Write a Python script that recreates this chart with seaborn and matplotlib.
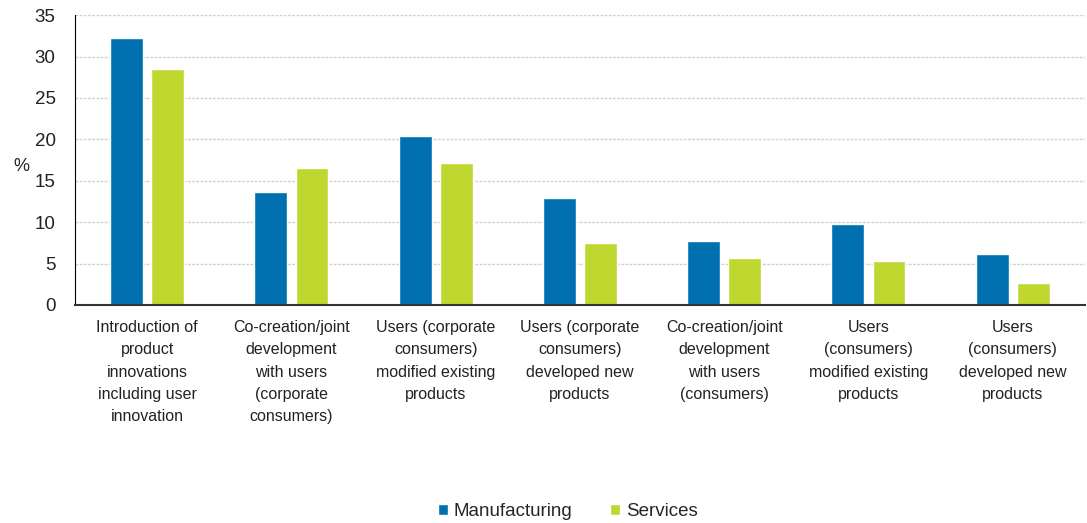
import pandas as pd
import matplotlib.pyplot as plt
import seaborn as sns

# Chart data
categories = [
    "Introduction of\nproduct\ninnovations\nincluding user\ninnovation",
    "Co-creation/joint\ndevelopment\nwith users\n(corporate\nconsumers)",
    "Users (corporate\nconsumers)\nmodified existing\nproducts",
    "Users (corporate\nconsumers)\ndeveloped new\nproducts",
    "Co-creation/joint\ndevelopment\nwith users\n(consumers)",
    "Users\n(consumers)\nmodified existing\nproducts",
    "Users\n(consumers)\ndeveloped new\nproducts",
]
manufacturing = [32.2, 13.6, 20.4, 12.9, 7.7, 9.8, 6.1]
services = [28.5, 16.5, 17.1, 7.5, 5.7, 5.3, 2.6]
series = ["Manufacturing", "Services"]
colors = ["#0070b0", "#c0d730"]

df = pd.DataFrame({
    "category": categories * 2,
    "value": manufacturing + services,
    "sector": [series[0]] * len(categories) + [series[1]] * len(categories),
})

sns.set_style("white")
plt.rcParams["font.family"] = ["Liberation Sans", "DejaVu Sans"]

fig = plt.figure(figsize=(10.87, 5.23), dpi=100)
ax = fig.add_axes([0.069, 0.417, 0.929, 0.554])

sns.barplot(data=df, x="category", y="value", hue="sector", palette=colors,
            width=0.57, gap=0.2, saturation=1, ax=ax, legend=True)

ax.set_ylim(0, 35)
ax.set_yticks(range(0, 36, 5))
ax.set_xlim(-0.5, len(categories) - 0.5)
ax.yaxis.grid(True, color="#d0d0d0", linewidth=1, linestyle=(0, (2, 1)))
ax.set_axisbelow(True)
for s in ["top", "right"]:
    ax.spines[s].set_visible(False)
ax.spines["left"].set_color("black")
ax.spines["bottom"].set_color("#333333")
ax.spines["bottom"].set_linewidth(1.5)

ax.tick_params(axis="y", labelsize=13.5, length=0, pad=14, colors="#222222")
ax.tick_params(axis="x", labelsize=11.5, length=0, pad=11, colors="#222222")
for lab in ax.get_xticklabels():
    lab.set_linespacing(1.6)
ax.set_xlabel("")
ax.set_ylabel("%", rotation=0, fontsize=13, color="#222222")
ax.yaxis.set_label_coords(-0.053, 0.45)

ax.legend(loc="lower center", bbox_to_anchor=(0.488, -0.80), ncol=2, frameon=False,
          fontsize=13.5, handlelength=0.55, handleheight=0.55, handletextpad=0.3,
          columnspacing=2.0)

plt.savefig("out.png", dpi=100)
